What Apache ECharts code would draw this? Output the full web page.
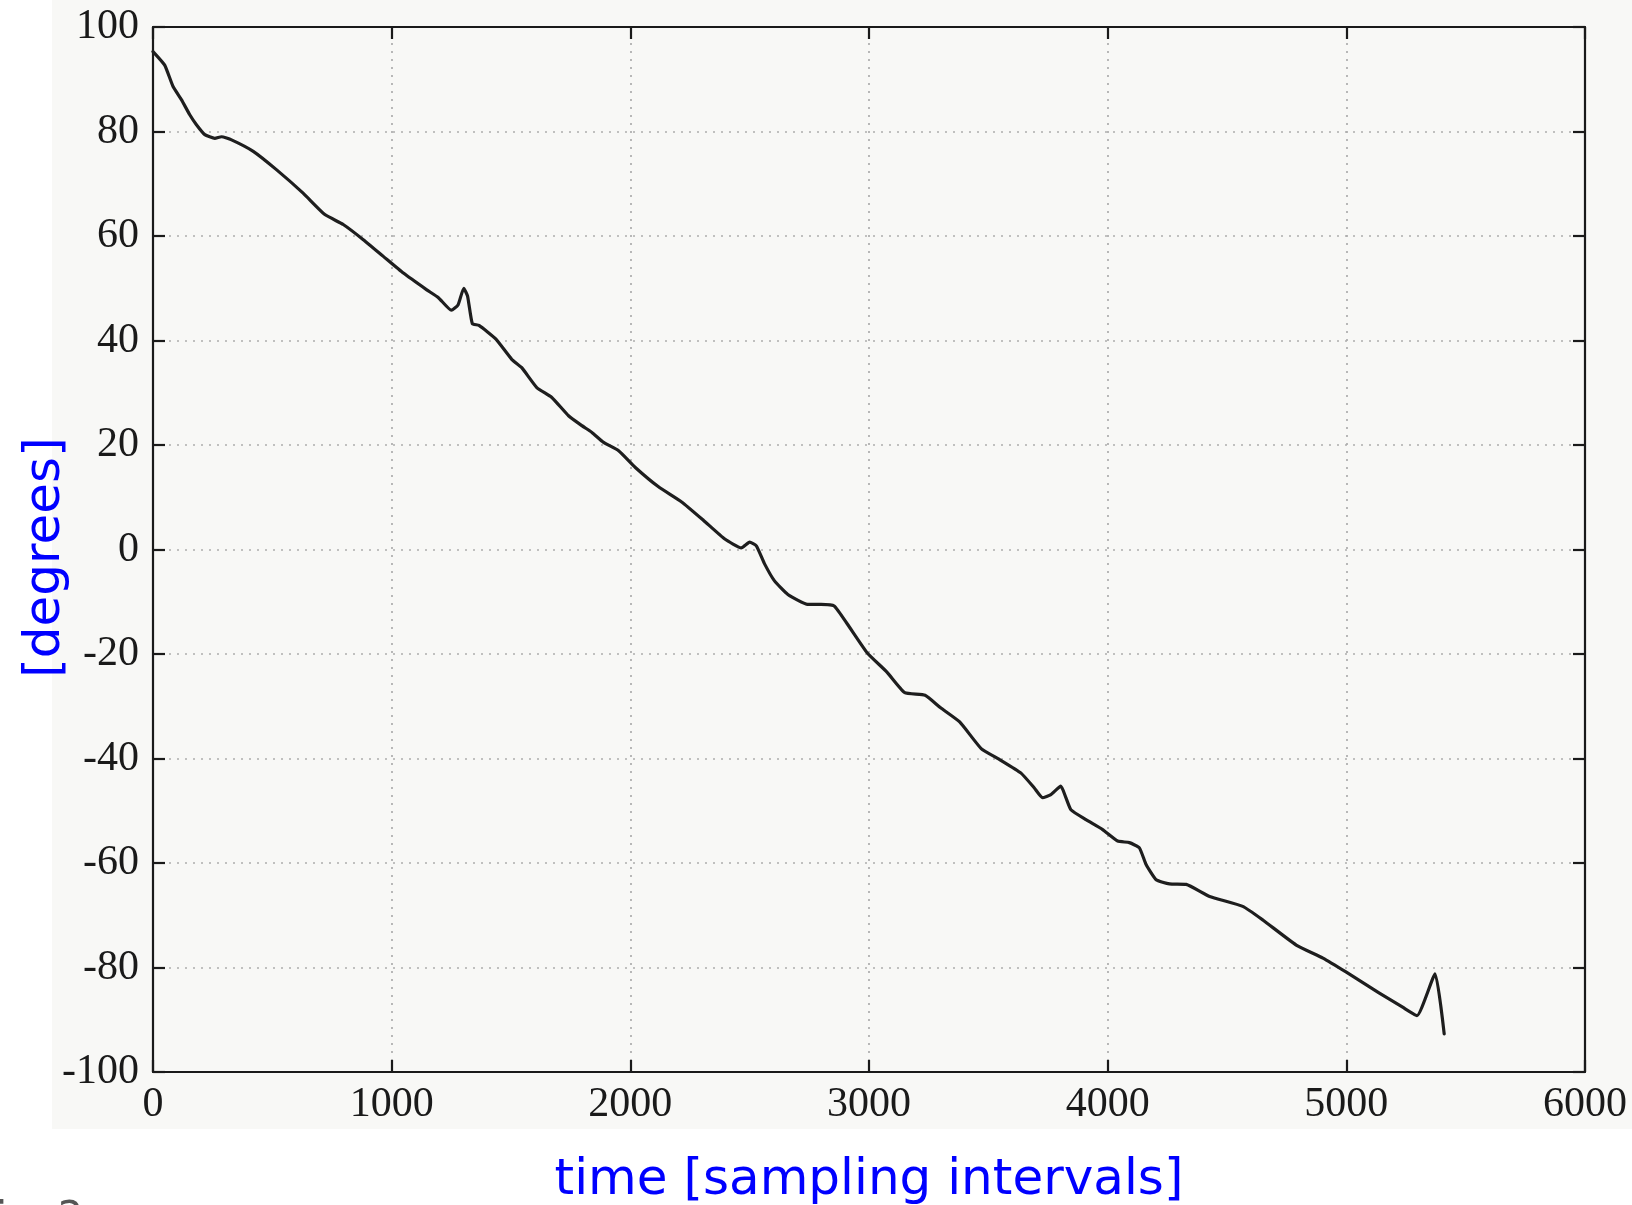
<!DOCTYPE html>
<html>
<head>
<meta charset="utf-8">
<title>angle over time</title>
<script src="https://cdn.jsdelivr.net/npm/echarts@6/dist/echarts.min.js"></script>
<style>
  html, body { margin: 0; padding: 0; background: #fff; }
  #chart { width: 1632px; height: 1205px; }
</style>
</head>
<body>
<div id="chart"></div>
<script>
// sample index (time in sampling intervals)
const timeSteps = [
  0, 49, 84, 119, 154, 182, 217, 259, 287, 329, 420, 517, 629, 720, 797, 881,
  965, 1049, 1147, 1196, 1250, 1278, 1302, 1318, 1338, 1366, 1436, 1503, 1545,
  1608, 1671, 1741, 1797, 1839, 1888, 1951, 2021, 2118, 2215, 2306, 2396, 2465,
  2500, 2528, 2563, 2604, 2660, 2743, 2799, 2854, 2910, 2993, 3076, 3150, 3235,
  3300, 3380, 3470, 3547, 3637, 3692, 3727, 3762, 3804, 3825, 3846, 3909, 3979,
  4042, 4091, 4133, 4161, 4203, 4259, 4329, 4427, 4566, 4650, 4790, 4902, 5000,
  5135, 5236, 5296, 5372, 5410
];

// angle in degrees
const angles = [
  95.3, 92.7, 88.6, 86.1, 83.2, 81.3, 79.4, 78.7, 79.0, 78.4, 76.2, 72.7, 68.2,
  64.1, 62.2, 59.3, 56.1, 52.9, 49.7, 48.2, 45.8, 46.8, 50.0, 48.5, 43.2, 42.9,
  40.3, 36.4, 34.8, 31.0, 29.1, 25.6, 23.7, 22.4, 20.5, 18.9, 15.7, 12.0, 9.1,
  5.6, 2.0, 0.3, 1.4, 0.7, -2.8, -6.0, -8.6, -10.5, -10.5, -10.8, -14.3, -19.8,
  -23.5, -27.4, -27.9, -30.3, -33.0, -38.1, -40.2, -42.8, -45.6, -47.5, -46.9,
  -45.3, -47.5, -49.8, -51.7, -53.6, -55.8, -56.1, -57.1, -60.3, -63.2, -64.0,
  -64.1, -66.4, -68.3, -70.9, -75.7, -78.2, -80.9, -84.8, -87.6, -89.2, -81.2,
  -92.7
];

const xTicks = [0, 6000, 1000];   // min, max, step
const yTicks = [-100, 100, 20];

const chart = echarts.init(document.getElementById('chart'));

// plain numbers, no thousands separator
const plain = v => String(v);

const tickFont = {
  fontFamily: 'Liberation Serif',
  fontSize: 42,
  color: '#1a1a1a',
  formatter: plain
};

const frameLine = { show: true, onZero: false, lineStyle: { color: '#1a1a1a', width: 2.2 } };
const innerTick = { show: true, inside: true, length: 12, lineStyle: { color: '#1a1a1a', width: 2.2 } };
const dotted = { show: true, lineStyle: { color: '#adadad', width: 1.7, type: [2, 6] } };

const option = {
  backgroundColor: '#ffffff',
  animation: false,
  graphic: [
    {
      type: 'rect',
      z: -100,
      shape: { x: 52, y: 0, width: 1580, height: 1129 },
      style: { fill: '#f8f8f6' }
    },
    {
      // caption of the scanned page, almost entirely cut off at the bottom
      type: 'text',
      z: -50,
      x: -24,
      y: 1200,
      style: {
        text: 'Fig. 2',
        fontFamily: 'DejaVu Sans',
        fontSize: 40,
        fill: '#555',
        verticalAlign: 'top'
      }
    }
  ],
  grid: {
    left: 153,
    right: 47,
    top: 27,
    bottom: 133,
    containLabel: false,
    outerBoundsMode: 'none'
  },
  xAxis: [
    {
      type: 'value',
      min: xTicks[0],
      max: xTicks[1],
      interval: xTicks[2],
      name: 'time [sampling intervals]',
      nameLocation: 'middle',
      nameGap: 84,
      nameTextStyle: { fontFamily: 'DejaVu Sans', fontSize: 50, color: '#0000ff' },
      axisLine: frameLine,
      axisTick: innerTick,
      axisLabel: Object.assign({ margin: 12 }, tickFont),
      splitLine: dotted
    },
    {
      type: 'value',
      position: 'top',
      min: xTicks[0],
      max: xTicks[1],
      interval: xTicks[2],
      axisLine: frameLine,
      axisTick: innerTick,
      axisLabel: { show: false },
      splitLine: { show: false }
    }
  ],
  yAxis: [
    {
      type: 'value',
      min: yTicks[0],
      max: yTicks[1],
      interval: yTicks[2],
      name: '[degrees]',
      nameLocation: 'middle',
      nameGap: 82,
      nameMoveOverlap: false,
      nameTextStyle: {
        fontFamily: 'DejaVu Sans',
        fontSize: 50,
        color: '#0000ff',
        padding: [0, 16, 0, 0]
      },
      axisLine: frameLine,
      axisTick: innerTick,
      axisLabel: Object.assign({ margin: 14 }, tickFont),
      splitLine: dotted
    },
    {
      type: 'value',
      position: 'right',
      min: yTicks[0],
      max: yTicks[1],
      interval: yTicks[2],
      axisLine: frameLine,
      axisTick: innerTick,
      axisLabel: { show: false },
      splitLine: { show: false }
    }
  ],
  series: [
    {
      type: 'line',
      data: timeSteps.map((t, i) => [t, angles[i]]),
      showSymbol: false,
      smooth: 0.15,
      lineStyle: { color: '#1e1e1e', width: 3.2, join: 'round', cap: 'round' },
      z: 5
    }
  ]
};

chart.setOption(option);
window.addEventListener('resize', () => chart.resize());
</script>
</body>
</html>
